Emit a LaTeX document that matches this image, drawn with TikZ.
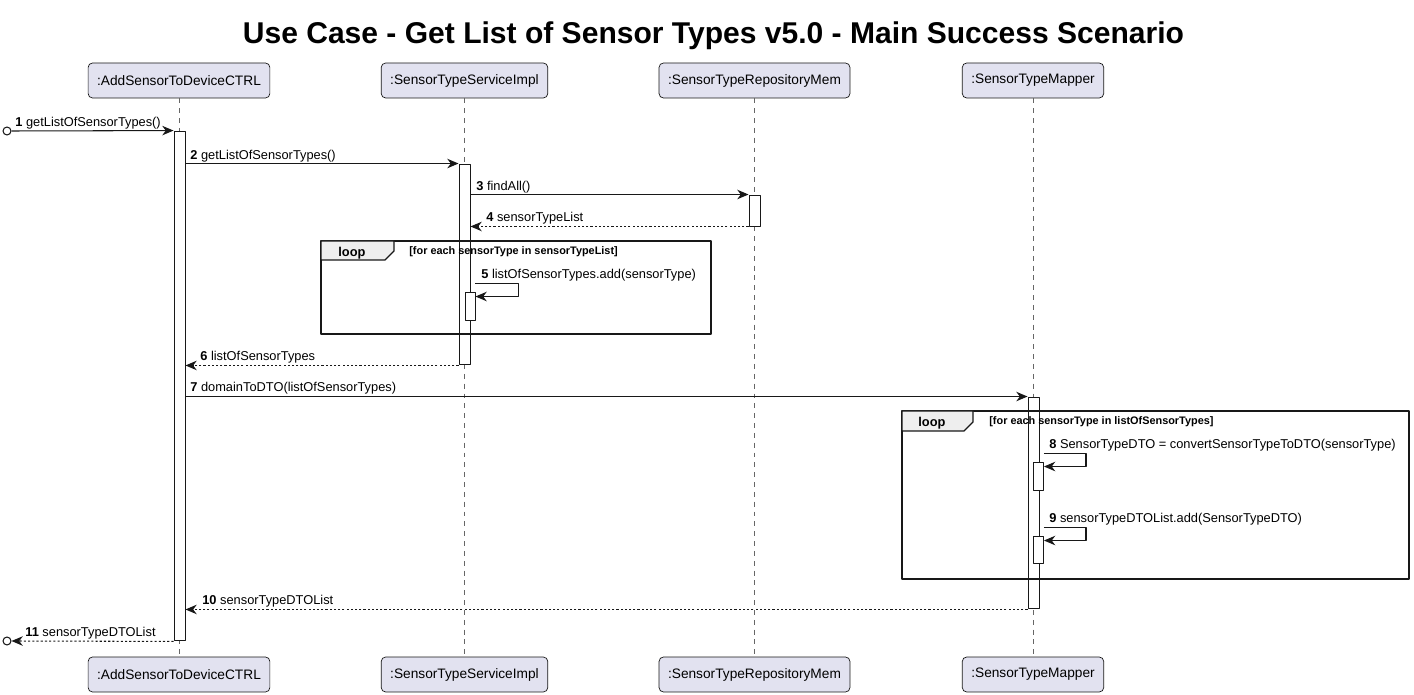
\documentclass[tikz,border=0pt]{standalone}
\usepackage{fontspec}
\setmainfont{Liberation Sans}
\usepackage{tikz}
\usetikzlibrary{arrows.meta,calc}

\definecolor{partfill}{HTML}{E2E2F0}
\definecolor{partline}{HTML}{181818}
\definecolor{tabfill}{HTML}{EEEEEE}

\tikzset{
  part/.style={draw=partline,fill=partfill,rounded corners=2.5pt,minimum height=0.7cm,
    inner xsep=0.18cm,font=\fontsize{7.8}{9}\selectfont},
  life/.style={draw=black!60,line width=0.5pt,dash pattern=on 2.8pt off 2.8pt},
  bar/.style={draw=partline,fill=white,line width=0.55pt,minimum width=0.22cm,inner sep=0pt},
  msg/.style={draw=partline,line width=0.6pt,-{Stealth[length=6.4pt,width=5.4pt,inset=2pt]}},
  ret/.style={msg,dash pattern=on 1.2pt off 1.2pt},
  lbl/.style={anchor=base west,inner sep=0pt,font=\fontsize{7.3}{9}\selectfont},
  frame/.style={draw=partline,line width=1.1pt},
  tab/.style={draw=partline,line width=0.8pt,fill=tabfill},
  guard/.style={anchor=base west,inner sep=0pt,font=\bfseries\fontsize{6.2}{8}\selectfont},
  endpt/.style={circle,draw=partline,line width=0.6pt,minimum size=0.16cm,inner sep=0pt}
}
\newcommand{\msgtext}[2]{\textbf{#1} #2}

\begin{document}
\begin{tikzpicture}[x=0.02cm,y=-0.02cm,line join=round] % Sensor type list sequence
    \useasboundingbox (0,0) rectangle (1414,695);
    \node[font=\bfseries\fontsize{17.1}{20}\selectfont] (title) at (713.5,36)
        {Use Case - Get List of Sensor Types v5.0 - Main Success Scenario};
    % participants
    \node[part] (ctrlT) at (179,80.5) {:AddSensorToDeviceCTRL};
    \node[part] (servT) at (464.5,80.5) {:SensorTypeServiceImpl};
    \node[part] (repoT) at (754.5,80.5) {:SensorTypeRepositoryMem};
    \node[part] (mapT) at (1033,80.5) {:SensorTypeMapper};
    \node[part] (ctrlB) at (179,674.5) {:AddSensorToDeviceCTRL};
    \node[part] (servB) at (464.5,674.5) {:SensorTypeServiceImpl};
    \node[part] (repoB) at (754.5,674.5) {:SensorTypeRepositoryMem};
    \node[part] (mapB) at (1033,674.5) {:SensorTypeMapper};
    \foreach \p in {ctrl,serv,repo,map}
        \draw[life] (\p T.south) -- (\p B.north);
    % activations
    \node[bar,minimum height=10.2cm] (ctrlA) at (179.5,386) {};
    \node[bar,minimum height=4.02cm] (servA) at (464.5,264.5) {};
    \node[bar,minimum height=0.62cm] (repoA) at (754.5,210.5) {};
    \node[bar,minimum height=0.56cm,minimum width=0.2cm] (servX) at (470,306) {};
    \node[bar,minimum height=4.24cm] (mapA) at (1033.5,503) {};
    \node[bar,minimum height=0.56cm,minimum width=0.2cm] (mapX) at (1038.5,476) {};
    \node[bar,minimum height=0.54cm,minimum width=0.2cm] (mapY) at (1038.5,549.5) {};
    % loop frames
    \draw[frame] (321,241) rectangle (711,334);
    \filldraw[tab] (321,241)--(394,241)--(394,251)--(385,260)--(321,260)--cycle;
    \node[lbl,font=\bfseries\fontsize{7.3}{9}\selectfont] (loopA) at (338,257) {loop};
    \node[guard] (guardA) at (409,255) {[for each sensorType in sensorTypeList]};
    \draw[frame] (902,411) rectangle (1409,579);
    \filldraw[tab] (902,411)--(973,411)--(973,422)--(964,431)--(902,431)--cycle;
    \node[lbl,font=\bfseries\fontsize{7.3}{9}\selectfont] (loopB) at (918,427) {loop};
    \node[guard] (guardB) at (989,425) {[for each sensorType in listOfSensorTypes]};
    % messages
    \node[endpt] (src) at (7,131) {};
    \node[endpt] (snk) at (7,641) {};
    \draw[msg] (src.east) -- (ctrlA.north west);
    \draw[msg] (ctrlA.east |- servA.north) -- (servA.north west);
    \draw[msg] (servA.east |- repoA.north) -- (repoA.north west);
    \draw[ret] (repoA.south west) -- (servA.east |- repoA.south);
    \draw[msg] ($(servX.north east)+(0,-8)$) -- ++(43,0) -- ++(0,13) -- ($(servX.north east)+(0,5)$);
    \draw[ret] (servA.south west) -- (ctrlA.east |- servA.south);
    \draw[msg] (ctrlA.east |- mapA.north) -- (mapA.north west);
    \draw[msg] ($(mapX.north east)+(0,-8)$) -- ++(42,0) -- ++(0,13) -- ($(mapX.north east)+(0,5)$);
    \draw[msg] ($(mapY.north east)+(0,-8)$) -- ++(42,0) -- ++(0,13) -- ($(mapY.north east)+(0,5)$);
    \draw[ret] (mapA.south west) -- (ctrlA.east |- mapA.south);
    \draw[ret] (ctrlA.south west) -- (snk.east);
    % message labels
    \node[lbl] (l1) at (15,127) {\msgtext{1}{getListOfSensorTypes()}};
    \node[lbl] (l2) at (190,160) {\msgtext{2}{getListOfSensorTypes()}};
    \node[lbl] (l3) at (476,191) {\msgtext{3}{findAll()}};
    \node[lbl] (l4) at (486,222) {\msgtext{4}{sensorTypeList}};
    \node[lbl] (l5) at (481,279) {\msgtext{5}{listOfSensorTypes.add(sensorType)}};
    \node[lbl] (l6) at (200,361) {\msgtext{6}{listOfSensorTypes}};
    \node[lbl] (l7) at (190,392) {\msgtext{7}{domainToDTO(listOfSensorTypes)}};
    \node[lbl] (l8) at (1049,449) {\msgtext{8}{SensorTypeDTO = convertSensorTypeToDTO(sensorType)}};
    \node[lbl] (l9) at (1049,523) {\msgtext{9}{sensorTypeDTOList.add(SensorTypeDTO)}};
    \node[lbl] (l10) at (202,605) {\msgtext{10}{sensorTypeDTOList}};
    \node[lbl] (l11) at (25,637) {\msgtext{11}{sensorTypeDTOList}};
\end{tikzpicture}
\end{document}
